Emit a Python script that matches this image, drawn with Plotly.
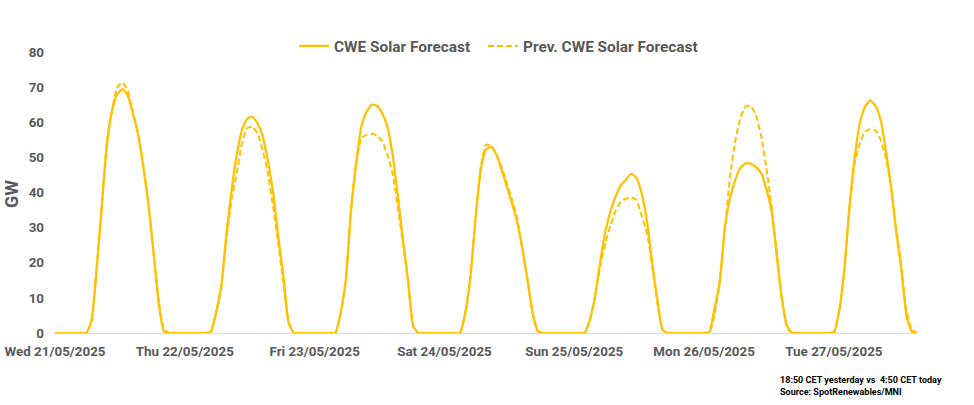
#!/usr/bin/env python3
"""CWE solar forecast vs previous forecast, hourly, one week."""

import plotly.graph_objects as go

# hourly values in GW, one list per day
solid_wed = [0, 0, 0, 0, 0, 0, 0, 3.2, 18, 36, 54, 63.5, 68, 69.4, 67.7, 62.5, 56.4, 47.3, 36.5, 22.5, 8, 0.4, 0, 0]
solid_thu = [0, 0, 0, 0, 0, 0, 0.4, 5.6, 13.2, 28, 40.7, 50.7, 57.8, 61, 61.6, 59.7, 56, 49, 40, 27.4, 16, 2.8, 0, 0]
solid_fri = [0, 0, 0, 0, 0, 0, 0, 5.7, 15, 35, 48.4, 58.8, 63, 65, 64.7, 62.6, 58.8, 50.8, 39.4, 26.6, 14.7, 1.9, 0, 0]
solid_sat = [0, 0, 0, 0, 0, 0, 0, 5.7, 16, 33, 46.5, 52.3, 53, 50.8, 46.5, 41.7, 37, 31.5, 24, 15, 5.5, 0.5, 0, 0]
solid_sun = [0, 0, 0, 0, 0, 0, 0, 3.8, 10.4, 20.4, 29, 34.8, 39, 42.1, 43.8, 45.3, 44.1, 39.6, 31.8, 20, 9.5, 1, 0, 0]
solid_mon = [0, 0, 0, 0, 0, 0, 0.3, 7, 14.2, 30, 38.4, 43.6, 47, 48.3, 48.2, 47.2, 45.5, 41, 34.6, 21.8, 9.5, 1.9, 0, 0]
solid_tue = [0, 0, 0, 0, 0, 0, 0.2, 6.2, 18, 36, 50, 59.8, 64.5, 66.2, 64.7, 60.7, 52, 41.7, 28.5, 18, 4.7, 0.4, 0]

prev_wed = [0, 0, 0, 0, 0, 0, 0, 3.2, 18, 36, 54, 63.5, 70, 71.3, 69, 63, 57, 48, 37, 23, 9, 1, 0, 0]
prev_thu = [0, 0, 0, 0, 0, 0, 0.4, 5.6, 13.2, 26.5, 38, 45.5, 54, 58.3, 58.7, 56.8, 52, 45.4, 36, 25.5, 14, 3.2, 0, 0]
prev_fri = [0, 0, 0, 0, 0, 0, 0, 5.7, 15, 35, 48, 55.5, 56.4, 56.7, 56.2, 54.6, 50.8, 45.5, 36, 25.6, 14.7, 1.9, 0, 0]
prev_sat = [0, 0, 0, 0, 0, 0, 0, 5.7, 16, 33, 47.4, 53.6, 53.3, 50.8, 47.4, 42.7, 38, 32.7, 24, 15, 5.5, 0.5, 0, 0]
prev_sun = [0, 0, 0, 0, 0, 0, 0, 3.8, 10.4, 19, 25.6, 30.8, 35, 37.4, 38.3, 38.6, 37.8, 33.2, 28.5, 19, 8.5, 0.8, 0, 0]
prev_mon = [0, 0, 0, 0, 0, 0, 0, 5.2, 14.7, 29.4, 44.6, 54.6, 61.2, 64.5, 64.5, 62, 56, 47, 36, 22.8, 9.5, 1.4, 0, 0]
prev_tue = [0, 0, 0, 0, 0, 0, 0.2, 6.2, 18, 35.5, 48.4, 54, 57.4, 58, 57.7, 55, 49.8, 41.7, 29.9, 19, 6.2, 1, 0]

# labels sit every 25 points on the category axis
tick_points = [0, 25, 50, 75, 100, 125, 150]
tick_labels = [
    "Wed 21/05/2025",
    "Thu 22/05/2025",
    "Fri 23/05/2025",
    "Sat 24/05/2025",
    "Sun 25/05/2025",
    "Mon 26/05/2025",
    "Tue 27/05/2025",
]

solid = solid_wed + solid_thu + solid_fri + solid_sat + solid_sun + solid_mon + solid_tue
prev = prev_wed + prev_thu + prev_fri + prev_sat + prev_sun + prev_mon + prev_tue
points = list(range(len(solid)))

FONT = "Roboto"
GREY = "#595959"
YELLOW = "#FFC000"

fig = go.Figure()
fig.add_trace(go.Scatter(
    x=points, y=solid, mode="lines", name="CWE Solar Forecast", legend="legend",
    line=dict(color=YELLOW, width=2.25, shape="spline", smoothing=0.5), cliponaxis=False,
))
fig.add_trace(go.Scatter(
    x=points, y=prev, mode="lines", name="Prev. CWE Solar Forecast", legend="legend2",
    line=dict(color=YELLOW, width=2, dash="6px,3px", shape="spline", smoothing=0.5), cliponaxis=False,
))

legend_font = dict(size=15.4, color=GREY, weight="bold")

fig.update_layout(
    width=974,
    height=405,
    autosize=False,
    margin=dict(l=55, r=57, t=52, b=72),
    paper_bgcolor="white",
    plot_bgcolor="white",
    font=dict(family=FONT, color=GREY, size=13),
    showlegend=True,
    legend=dict(
        x=(294 - 55) / 862, y=1.02, xanchor="left", yanchor="middle",
        font=legend_font, itemwidth=30, bgcolor="rgba(0,0,0,0)",
    ),
    legend2=dict(
        x=(483 - 55) / 862, y=1.02, xanchor="left", yanchor="middle",
        font=legend_font, itemwidth=30, bgcolor="rgba(0,0,0,0)",
    ),
    xaxis=dict(
        range=[0, 166], tickmode="array", tickvals=tick_points, ticktext=tick_labels,
        showgrid=False, zeroline=False, showline=True, linecolor="#D9D9D9", linewidth=1,
        ticks="", ticklabelstandoff=6, automargin=False,
        tickfont=dict(size=13.4, color=GREY, weight="bold"), tickangle=0,
    ),
    yaxis=dict(
        range=[0, 80], tick0=0, dtick=10,
        showgrid=False, zeroline=False, showline=False, ticks="",
        ticklabelstandoff=10, automargin=False,
        tickfont=dict(size=13.4, color=GREY, weight="bold"),
    ),
    annotations=[
        dict(
            text="GW", textangle=-90, xref="paper", yref="paper",
            x=(12 - 55) / 862, y=(333 - 194) / 281, xanchor="center", yanchor="middle",
            showarrow=False, font=dict(size=18, color=GREY, weight="bold"),
        ),
        dict(
            text="18:50 CET yesterday vs  4:50 CET today<br>Source: SpotRenewables/MNI",
            xref="paper", yref="paper", x=(778 - 55) / 862, y=-(373 - 333) / 281,
            xanchor="left", yanchor="top", align="left", showarrow=False,
            font=dict(size=9.05, color="black", weight="bold"),
        ),
    ],
)

# drop the default body margin so the figure fills the window exactly
fig.write_html(
    "out.html",
    config={"displayModeBar": False},
    post_script="document.body.style.margin='0';",
)
